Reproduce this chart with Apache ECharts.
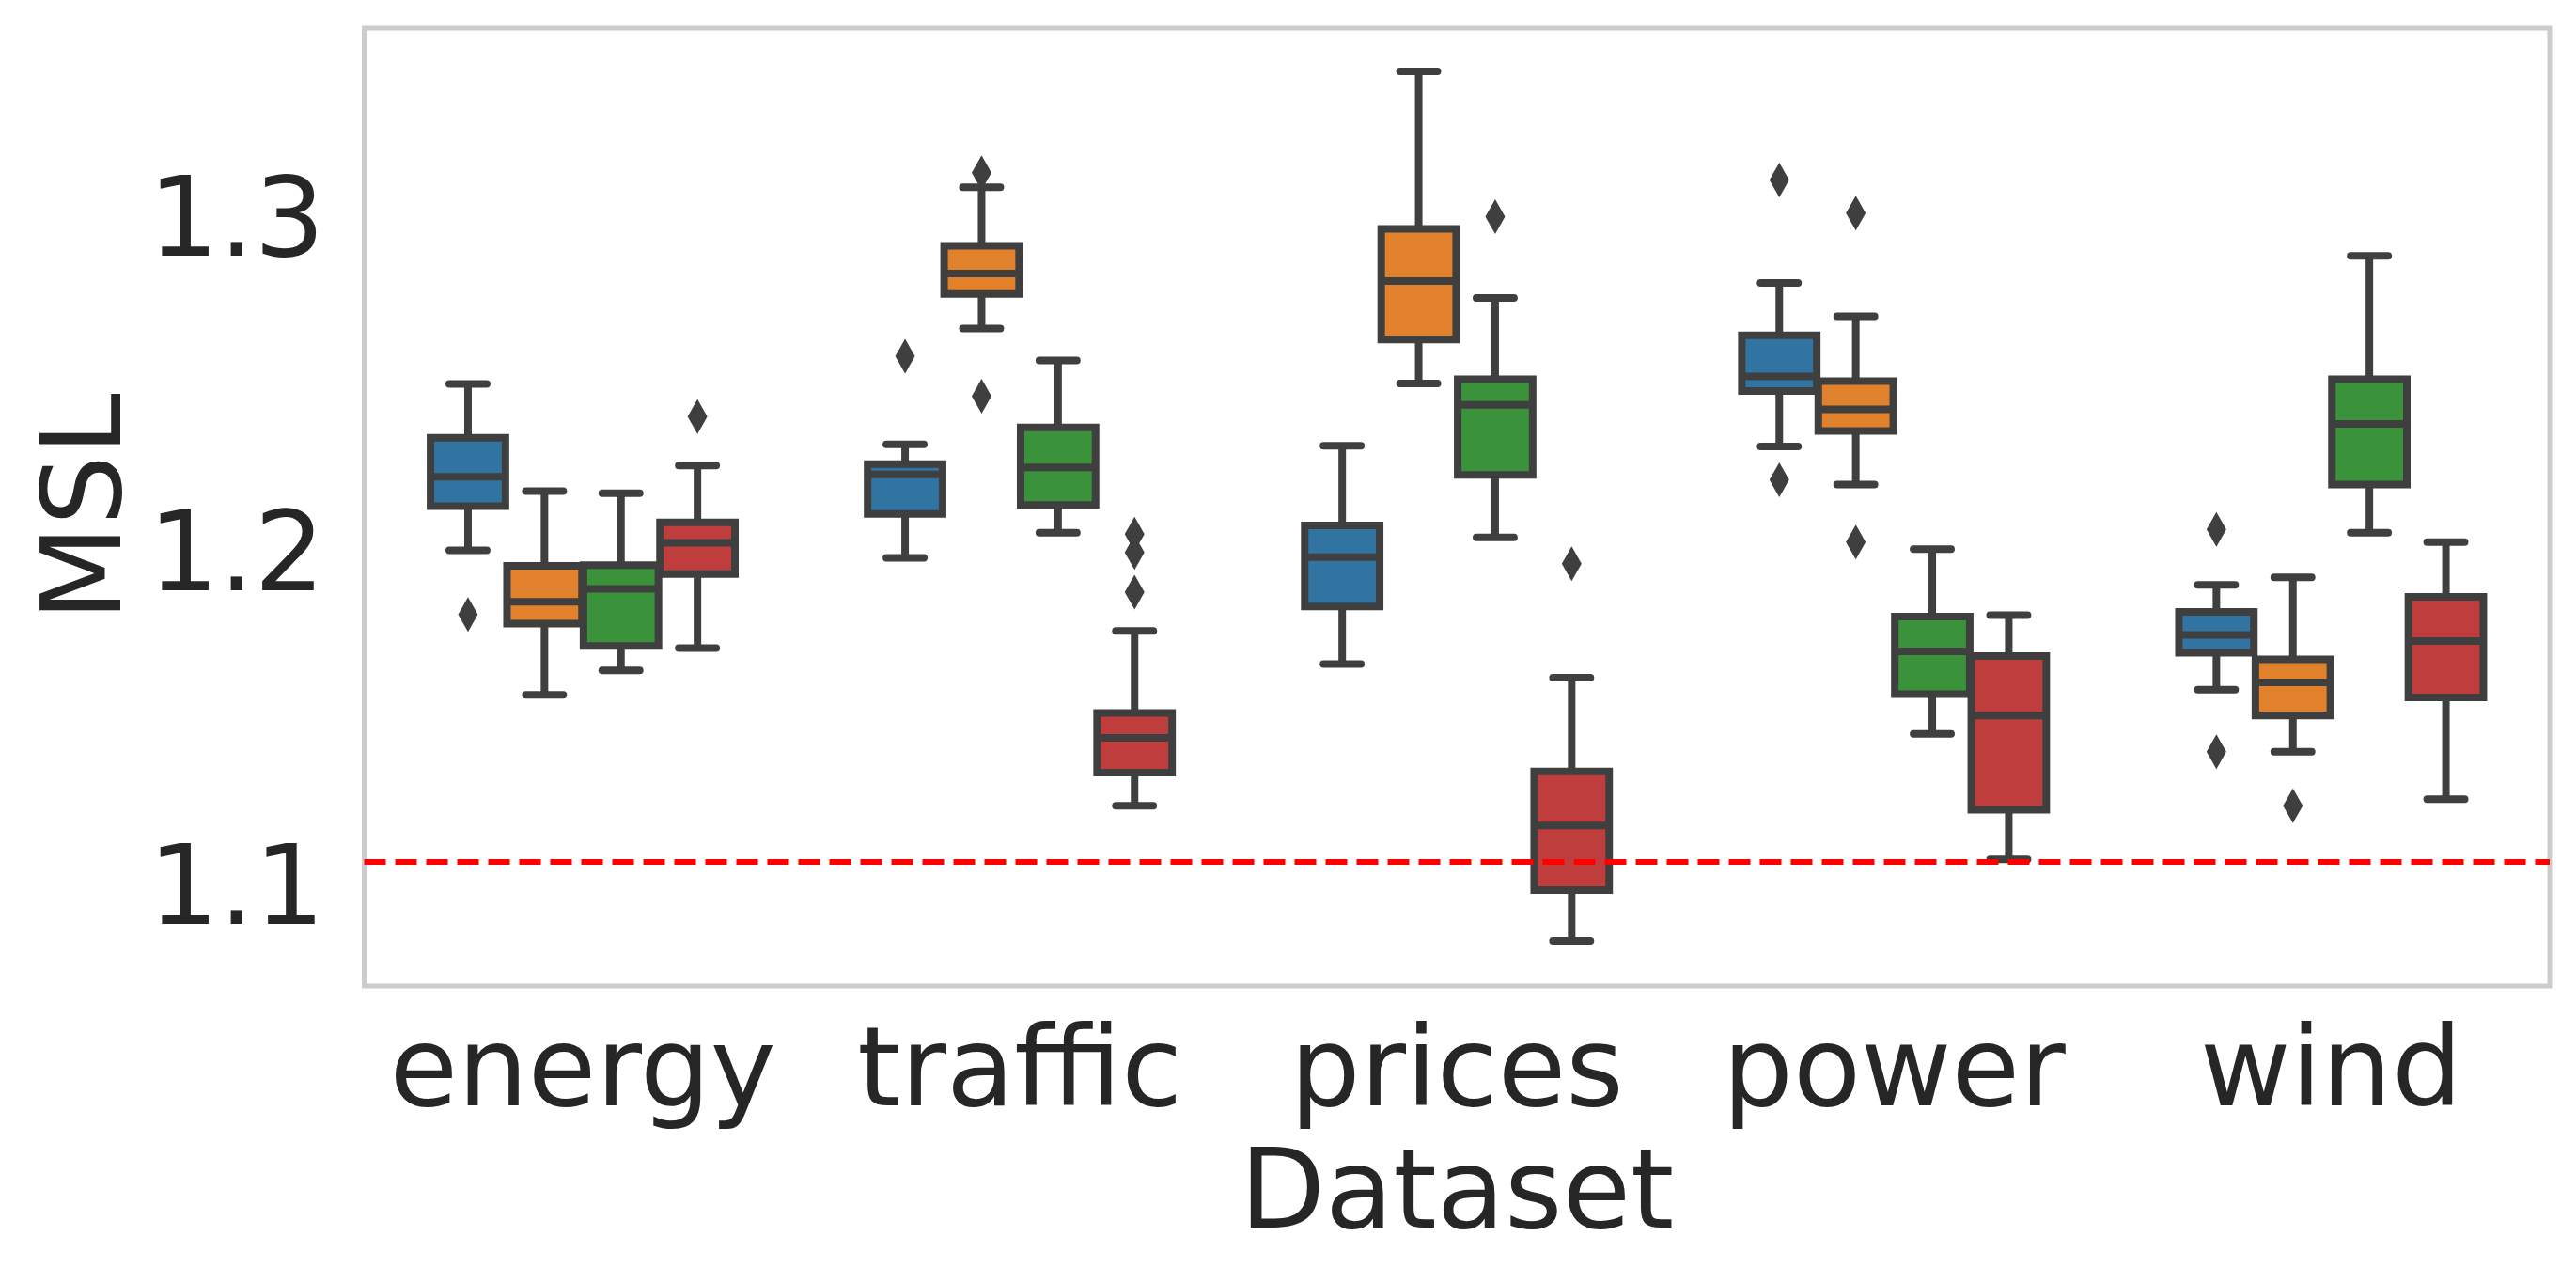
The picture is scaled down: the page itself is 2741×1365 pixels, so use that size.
<!DOCTYPE html>
<html>
<head>
<meta charset="utf-8">
<script src="https://cdn.jsdelivr.net/npm/echarts@6/dist/echarts.min.js"></script>
<style>
html, body { margin: 0; padding: 0; background: #fff; }
#display { width: 2741px; height: 1365px; }
</style>
</head>
<body>
<div id="display"></div>
<script>
var categories = ['energy', 'traffic', 'prices', 'power', 'wind'];

// per dataset: lower whisker, q1, median, q3, upper whisker
var boxes_0 = [
    [1.2032, 1.2164, 1.2252, 1.2369, 1.2530],
    [1.2010, 1.2141, 1.2259, 1.2290, 1.2349],
    [1.1692, 1.1864, 1.2012, 1.2107, 1.2345],
    [1.2343, 1.2509, 1.2552, 1.2675, 1.2832],
    [1.1615, 1.1726, 1.1779, 1.1848, 1.1929]
];
var boxes_1 = [
    [1.1600, 1.1813, 1.1878, 1.1986, 1.2209],
    [1.2696, 1.2799, 1.2860, 1.2943, 1.3118],
    [1.2531, 1.2663, 1.2838, 1.2994, 1.3465],
    [1.2229, 1.2389, 1.2454, 1.2538, 1.2732],
    [1.1430, 1.1538, 1.1637, 1.1706, 1.1951]
];
var boxes_2 = [
    [1.1673, 1.1746, 1.1917, 1.1988, 1.2203],
    [1.2085, 1.2168, 1.2280, 1.2400, 1.2600],
    [1.2071, 1.2258, 1.2467, 1.2544, 1.2787],
    [1.1483, 1.1602, 1.1730, 1.1834, 1.2036],
    [1.2085, 1.2229, 1.2410, 1.2544, 1.2913]
];
var boxes_3 = [
    [1.1740, 1.1961, 1.2055, 1.2116, 1.2286],
    [1.1268, 1.1367, 1.1471, 1.1546, 1.1791],
    [1.0864, 1.1016, 1.1209, 1.1371, 1.1651],
    [1.1108, 1.1256, 1.1538, 1.1716, 1.1838],
    [1.1288, 1.1592, 1.1761, 1.1893, 1.2057]
];

// [dataset index, value]
var outliers_0 = [[0, 1.184], [1, 1.2613], [3, 1.314], [3, 1.2243], [4, 1.2095], [4, 1.143]];
var outliers_1 = [[1, 1.3162], [1, 1.2493], [3, 1.3041], [3, 1.2057], [4, 1.1268]];
var outliers_2 = [[2, 1.303]];
var outliers_3 = [[0, 1.2432], [1, 1.2081], [1, 1.2026], [1, 1.1907], [2, 1.1992]];

var yTicks = [1.1, 1.2, 1.3];
var refLine = 1.1121;

var colors = ['#3274a1', '#e1812c', '#3a923a', '#c03d3e'];
var offsets = [-0.2625, -0.0875, 0.0875, 0.2625];
var boxWidth = 0.1715;
var edge = '#3f3f3f';
var textColor = '#262626';
var font = 'DejaVu Sans';
var fontSize = 118;

var allBoxes = [boxes_0, boxes_1, boxes_2, boxes_3];
var allOutliers = [outliers_0, outliers_1, outliers_2, outliers_3];

function renderBox(params, api) {
    var x = api.value(0);
    var low = api.coord([x, api.value(1)]);
    var q1 = api.coord([x, api.value(2)]);
    var med = api.coord([x, api.value(3)]);
    var q3 = api.coord([x, api.value(4)]);
    var high = api.coord([x, api.value(5)]);
    var half = api.size([boxWidth, 0])[0] / 2;
    var cx = q1[0];
    var lw = 8;
    var fill = api.visual('color');
    var line = function (x1, y1, x2, y2, cap) {
        return {
            type: 'line',
            shape: {x1: x1, y1: y1, x2: x2, y2: y2},
            style: {stroke: edge, lineWidth: lw, lineCap: cap || 'butt'}
        };
    };
    return {
        type: 'group',
        children: [
            line(cx, q3[1], cx, high[1]),
            line(cx, q1[1], cx, low[1]),
            line(cx - half / 2, high[1], cx + half / 2, high[1], 'round'),
            line(cx - half / 2, low[1], cx + half / 2, low[1], 'round'),
            {
                type: 'rect',
                shape: {x: cx - half, y: q3[1], width: half * 2, height: q1[1] - q3[1]},
                style: {fill: fill, stroke: edge, lineWidth: lw}
            },
            line(cx - half, med[1], cx + half, med[1])
        ]
    };
}

var series = [];
allBoxes.forEach(function (boxes, h) {
    series.push({
        type: 'custom',
        name: 'box' + h,
        renderItem: renderBox,
        itemStyle: {color: colors[h]},
        encode: {x: 0, y: [1, 2, 3, 4, 5]},
        data: boxes.map(function (b, i) {
            return [i + offsets[h]].concat(b);
        }),
        z: 2,
        silent: true
    });
});
allOutliers.forEach(function (pts, h) {
    series.push({
        type: 'scatter',
        symbol: 'diamond',
        symbolSize: [21, 37],
        itemStyle: {color: edge, opacity: 1},
        data: pts.map(function (p) {
            return [p[0] + offsets[h], p[1]];
        }),
        z: 3,
        silent: true
    });
});
series.push({
    type: 'scatter',
    data: [],
    z: 5,
    silent: true,
    markLine: {
        silent: true,
        symbol: ['none', 'none'],
        label: {show: false},
        lineStyle: {color: '#ff0000', width: 6, type: [23, 10], opacity: 1},
        data: [{yAxis: refLine}]
    }
});

var myChart = echarts.init(document.getElementById('display'));
myChart.setOption({
    animation: false,
    backgroundColor: '#ffffff',
    grid: {
        left: 387.5, right: 28, top: 30, bottom: 316,
        show: true, borderColor: '#cccccc', borderWidth: 5,
        containLabel: false, outerBoundsMode: 'none'
    },
    xAxis: {
        type: 'value',
        min: -0.5,
        max: 4.5,
        name: 'Dataset',
        nameLocation: 'middle',
        nameGap: 167,
        nameMoveOverlap: false,
        nameTextStyle: {fontSize: fontSize, color: textColor, fontFamily: font},
        axisLine: {show: false},
        axisTick: {show: false},
        splitLine: {show: false},
        axisLabel: {
            customValues: [0, 1, 2, 3, 4],
            margin: 37,
            fontSize: fontSize,
            color: textColor,
            fontFamily: font,
            formatter: function (v) { return categories[Math.round(v)]; }
        }
    },
    yAxis: {
        type: 'value',
        min: 1.0729,
        max: 1.3594,
        name: 'MSL',
        nameLocation: 'middle',
        nameRotate: 90,
        nameGap: 231,
        nameMoveOverlap: false,
        nameTextStyle: {fontSize: fontSize, color: textColor, fontFamily: font},
        axisLine: {show: false},
        axisTick: {show: false},
        splitLine: {show: false},
        axisLabel: {
            customValues: yTicks,
            margin: 42,
            padding: [52, 0, 0, 0],
            fontSize: fontSize,
            color: textColor,
            fontFamily: font,
            formatter: function (v) { return v.toFixed(1); }
        }
    },
    series: series
});
</script>
</body>
</html>
